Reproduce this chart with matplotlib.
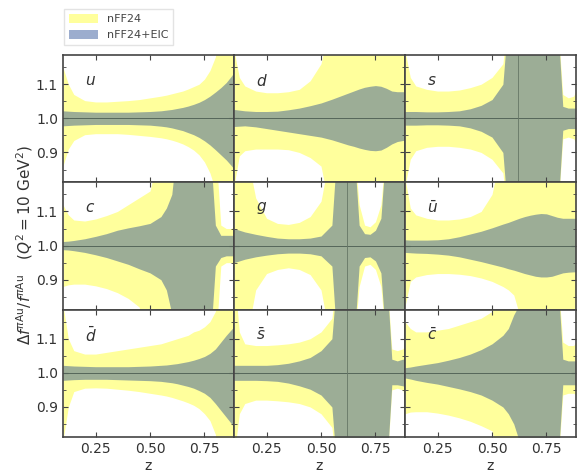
import numpy as np
import matplotlib.pyplot as plt
from matplotlib.patches import Patch
from matplotlib.ticker import MultipleLocator

# common z grid (denser at large z where the bands change quickly)
z = [0.10, 0.125, 0.15, 0.20, 0.25, 0.30, 0.35, 0.40, 0.45, 0.50, 0.55, 0.575, 0.60,
     0.625, 0.65, 0.675, 0.70, 0.725, 0.75, 0.775, 0.80, 0.825, 0.85, 0.875, 0.885]

# nFF24 band (upper / lower) and nFF24+EIC band (upper / lower)
u_nff_hi = [1.15, 1.10, 1.07, 1.052, 1.048, 1.048, 1.05, 1.052, 1.055, 1.06, 1.065, 1.068, 1.072,
            1.076, 1.08, 1.086, 1.093, 1.10, 1.115, 1.14, 1.18, 1.3, 1.3, 1.3, 1.3]
u_nff_lo = [0.86, 0.91, 0.935, 0.952, 0.955, 0.955, 0.955, 0.953, 0.95, 0.947, 0.943, 0.94, 0.936,
            0.931, 0.925, 0.917, 0.907, 0.893, 0.872, 0.84, 0.79, 0.7, 0.7, 0.7, 0.7]
u_eic_hi = [1.022, 1.021, 1.02, 1.019, 1.018, 1.018, 1.018, 1.018, 1.019, 1.02, 1.022, 1.024, 1.026,
            1.029, 1.032, 1.036, 1.041, 1.047, 1.055, 1.065, 1.077, 1.09, 1.105, 1.125, 1.135]
u_eic_lo = [0.978, 0.979, 0.98, 0.981, 0.982, 0.982, 0.982, 0.982, 0.981, 0.98, 0.977, 0.975, 0.972,
            0.968, 0.964, 0.958, 0.952, 0.944, 0.934, 0.922, 0.908, 0.893, 0.878, 0.86, 0.852]

d_nff_hi = [1.2, 1.12, 1.095, 1.08, 1.075, 1.075, 1.078, 1.085, 1.11, 1.16, 1.3, 1.3, 1.3,
            1.3, 1.3, 1.3, 1.3, 1.3, 1.3, 1.3, 1.3, 1.3, 1.3, 1.3, 1.3]
d_nff_lo = [0.8, 0.89, 0.905, 0.91, 0.91, 0.91, 0.908, 0.9, 0.885, 0.86, 0.7, 0.7, 0.7,
            0.7, 0.7, 0.7, 0.7, 0.7, 0.7, 0.7, 0.7, 0.7, 0.7, 0.7, 0.7]
d_eic_hi = [1.026, 1.024, 1.022, 1.02, 1.02, 1.021, 1.025, 1.03, 1.037, 1.045, 1.056, 1.062, 1.068,
            1.074, 1.08, 1.086, 1.091, 1.094, 1.096, 1.094, 1.088, 1.08, 1.078, 1.078, 1.078]
d_eic_lo = [0.976, 0.977, 0.978, 0.975, 0.97, 0.965, 0.96, 0.955, 0.95, 0.945, 0.937, 0.932, 0.927,
            0.922, 0.918, 0.913, 0.909, 0.906, 0.905, 0.907, 0.915, 0.925, 0.932, 0.935, 0.935]

s_nff_hi = [1.2, 1.12, 1.095, 1.085, 1.08, 1.08, 1.083, 1.09, 1.10, 1.12, 1.16, 1.3, 1.3,
            1.3, 1.3, 1.3, 1.3, 1.3, 1.3, 1.3, 1.3, 1.07, 1.06, 1.065, 1.08]
s_nff_lo = [0.8, 0.88, 0.905, 0.915, 0.918, 0.918, 0.915, 0.91, 0.9, 0.88, 0.84, 0.7, 0.7,
            0.7, 0.7, 0.7, 0.7, 0.7, 0.7, 0.7, 0.7, 0.94, 0.945, 0.94, 0.93]
s_eic_hi = [1.02, 1.02, 1.02, 1.019, 1.019, 1.02, 1.022, 1.028, 1.038, 1.055, 1.1, 1.3, 1.3,
            1.3, 1.3, 1.3, 1.3, 1.3, 1.3, 1.3, 1.3, 1.035, 1.03, 1.03, 1.03]
s_eic_lo = [0.98, 0.98, 0.98, 0.981, 0.981, 0.98, 0.978, 0.972, 0.962, 0.945, 0.9, 0.7, 0.7,
            0.7, 0.7, 0.7, 0.7, 0.7, 0.7, 0.7, 0.7, 0.965, 0.97, 0.97, 0.97]

c_nff_hi = [1.12, 1.09, 1.075, 1.072, 1.078, 1.088, 1.10, 1.12, 1.14, 1.16, 1.3, 1.3, 1.3,
            1.3, 1.3, 1.3, 1.3, 1.3, 1.3, 1.3, 1.3, 1.06, 1.05, 1.05, 1.06]
c_nff_lo = [0.88, 0.885, 0.887, 0.887, 0.882, 0.874, 0.862, 0.845, 0.82, 0.7, 0.7, 0.7, 0.7,
            0.7, 0.7, 0.7, 0.7, 0.7, 0.7, 0.7, 0.7, 0.94, 0.95, 0.95, 0.94]
c_eic_hi = [1.012, 1.013, 1.015, 1.02, 1.027, 1.035, 1.045, 1.052, 1.058, 1.065, 1.085, 1.11, 1.15,
            1.3, 1.3, 1.3, 1.3, 1.3, 1.3, 1.3, 1.06, 1.03, 1.03, 1.03, 1.03]
c_eic_lo = [0.988, 0.987, 0.985, 0.98, 0.973, 0.965, 0.955, 0.945, 0.932, 0.92, 0.9, 0.87, 0.8,
            0.7, 0.7, 0.7, 0.7, 0.7, 0.7, 0.7, 0.94, 0.965, 0.97, 0.97, 0.97]

g_nff_hi = [1.3, 1.3, 1.3, 1.14, 1.08, 1.065, 1.062, 1.068, 1.085, 1.13, 1.3, 1.3, 1.3,
            1.3, 1.3, 1.12, 1.06, 1.055, 1.07, 1.12, 1.3, 1.3, 1.3, 1.3, 1.3]
g_nff_lo = [0.7, 0.7, 0.7, 0.87, 0.918, 0.93, 0.935, 0.93, 0.915, 0.87, 0.7, 0.7, 0.7,
            0.7, 0.7, 0.88, 0.94, 0.945, 0.93, 0.88, 0.7, 0.7, 0.7, 0.7, 0.7]
g_eic_hi = [1.05, 1.045, 1.04, 1.033, 1.027, 1.022, 1.02, 1.02, 1.022, 1.028, 1.06, 1.3, 1.3,
            1.3, 1.3, 1.06, 1.035, 1.033, 1.045, 1.08, 1.3, 1.3, 1.3, 1.3, 1.3]
g_eic_lo = [0.95, 0.955, 0.96, 0.967, 0.972, 0.976, 0.978, 0.978, 0.976, 0.97, 0.94, 0.7, 0.7,
            0.7, 0.7, 0.94, 0.965, 0.967, 0.955, 0.92, 0.7, 0.7, 0.7, 0.7, 0.7]

ub_nff_hi = [1.2, 1.11, 1.09, 1.08, 1.075, 1.075, 1.078, 1.085, 1.10, 1.15, 1.3, 1.3, 1.3,
             1.3, 1.3, 1.3, 1.3, 1.3, 1.3, 1.3, 1.3, 1.3, 1.3, 1.3, 1.3]
ub_nff_lo = [0.82, 0.895, 0.908, 0.915, 0.918, 0.918, 0.916, 0.912, 0.905, 0.895, 0.88, 0.87, 0.855,
             0.8, 0.7, 0.7, 0.7, 0.7, 0.7, 0.7, 0.7, 0.7, 0.7, 0.7, 0.7]
ub_eic_hi = [1.017, 1.016, 1.016, 1.016, 1.017, 1.02, 1.026, 1.034, 1.042, 1.052, 1.063, 1.068, 1.074,
             1.08, 1.085, 1.089, 1.092, 1.094, 1.093, 1.088, 1.083, 1.08, 1.08, 1.08, 1.08]
ub_eic_lo = [0.98, 0.979, 0.978, 0.977, 0.975, 0.972, 0.967, 0.96, 0.953, 0.945, 0.937, 0.932, 0.928,
             0.923, 0.918, 0.914, 0.91, 0.908, 0.908, 0.91, 0.915, 0.92, 0.922, 0.923, 0.923]

db_nff_hi = [1.2, 1.1, 1.065, 1.055, 1.055, 1.06, 1.065, 1.07, 1.075, 1.08, 1.085, 1.09, 1.095,
             1.10, 1.105, 1.11, 1.12, 1.125, 1.135, 1.15, 1.18, 1.3, 1.3, 1.3, 1.3]
db_nff_lo = [0.8, 0.9, 0.945, 0.955, 0.956, 0.955, 0.952, 0.949, 0.945, 0.94, 0.935, 0.932, 0.928,
             0.923, 0.918, 0.912, 0.905, 0.895, 0.88, 0.86, 0.82, 0.7, 0.7, 0.7, 0.7]
db_eic_hi = [1.022, 1.021, 1.02, 1.019, 1.018, 1.018, 1.018, 1.018, 1.019, 1.02, 1.022, 1.023, 1.025,
             1.027, 1.03, 1.033, 1.037, 1.042, 1.048, 1.057, 1.07, 1.09, 1.11, 1.128, 1.135]
db_eic_lo = [0.978, 0.979, 0.98, 0.981, 0.981, 0.981, 0.98, 0.979, 0.978, 0.977, 0.975, 0.973, 0.971,
             0.968, 0.964, 0.96, 0.955, 0.948, 0.94, 0.928, 0.91, 0.89, 0.87, 0.85, 0.84]

sb_nff_hi = [1.3, 1.12, 1.085, 1.08, 1.08, 1.082, 1.085, 1.09, 1.10, 1.12, 1.16, 1.3, 1.3,
             1.3, 1.3, 1.3, 1.3, 1.3, 1.3, 1.3, 1.3, 1.07, 1.065, 1.07, 1.08]
sb_nff_lo = [0.75, 0.88, 0.91, 0.92, 0.92, 0.918, 0.915, 0.91, 0.9, 0.88, 0.84, 0.7, 0.7,
             0.7, 0.7, 0.7, 0.7, 0.7, 0.7, 0.7, 0.7, 0.95, 0.955, 0.95, 0.93]
sb_eic_hi = [1.022, 1.022, 1.022, 1.022, 1.022, 1.024, 1.028, 1.035, 1.045, 1.065, 1.1, 1.3, 1.3,
             1.3, 1.3, 1.3, 1.3, 1.3, 1.3, 1.3, 1.3, 1.04, 1.035, 1.04, 1.04]
sb_eic_lo = [0.978, 0.978, 0.978, 0.978, 0.977, 0.975, 0.97, 0.962, 0.952, 0.935, 0.9, 0.7, 0.7,
             0.7, 0.7, 0.7, 0.7, 0.7, 0.7, 0.7, 0.7, 0.965, 0.965, 0.962, 0.96]

cb_nff_hi = [1.15, 1.13, 1.12, 1.12, 1.125, 1.13, 1.14, 1.15, 1.16, 1.18, 1.3, 1.3, 1.3,
             1.3, 1.3, 1.3, 1.3, 1.3, 1.3, 1.3, 1.3, 1.09, 1.08, 1.08, 1.09]
cb_nff_lo = [0.88, 0.885, 0.886, 0.886, 0.882, 0.876, 0.868, 0.858, 0.845, 0.83, 0.7, 0.7, 0.7,
             0.7, 0.7, 0.7, 0.7, 0.7, 0.7, 0.7, 0.7, 0.935, 0.94, 0.94, 0.935]
cb_eic_hi = [1.015, 1.017, 1.02, 1.025, 1.03, 1.037, 1.045, 1.055, 1.068, 1.085, 1.11, 1.13, 1.17,
             1.2, 1.3, 1.3, 1.3, 1.3, 1.3, 1.3, 1.3, 1.04, 1.035, 1.035, 1.035]
cb_eic_lo = [0.985, 0.982, 0.978, 0.972, 0.967, 0.96, 0.953, 0.945, 0.935, 0.92, 0.9, 0.88, 0.85,
             0.8, 0.7, 0.7, 0.7, 0.7, 0.7, 0.7, 0.7, 0.965, 0.965, 0.965, 0.965]

labels = [r'$u$', r'$d$', r'$s$', r'$c$', r'$g$', r'$\bar{u}$', r'$\bar{d}$', r'$\bar{s}$', r'$\bar{c}$']
bands = [
    (u_nff_hi, u_nff_lo, u_eic_hi, u_eic_lo),
    (d_nff_hi, d_nff_lo, d_eic_hi, d_eic_lo),
    (s_nff_hi, s_nff_lo, s_eic_hi, s_eic_lo),
    (c_nff_hi, c_nff_lo, c_eic_hi, c_eic_lo),
    (g_nff_hi, g_nff_lo, g_eic_hi, g_eic_lo),
    (ub_nff_hi, ub_nff_lo, ub_eic_hi, ub_eic_lo),
    (db_nff_hi, db_nff_lo, db_eic_hi, db_eic_lo),
    (sb_nff_hi, sb_nff_lo, sb_eic_hi, sb_eic_lo),
    (cb_nff_hi, cb_nff_lo, cb_eic_hi, cb_eic_lo),
]
# panels with the faint vertical line
vline_z = {2: 0.62, 4: 0.62, 7: 0.62}

yellow = '#ffff9c'
eic_col = '#1f4590'
eic_alpha = 0.44
spine_col = '#444444'

fig, axes = plt.subplots(3, 3, figsize=(5.77, 4.76), dpi=100, sharex=True, sharey=True)
fig.subplots_adjust(left=0.109, right=0.998, top=0.884, bottom=0.082, wspace=0, hspace=0)

for i, ax in enumerate(axes.flat):
    hi, lo, ehi, elo = bands[i]
    ax.fill_between(z, lo, hi, color=yellow, lw=0)
    ax.fill_between(z, elo, ehi, color=eic_col, alpha=eic_alpha, lw=0)
    ax.axhline(1.0, color='#55665a', lw=0.7)
    if i in vline_z:
        ax.axvline(vline_z[i], color='#667766', lw=0.6)
    ax.text(0.13, 0.80, labels[i], transform=ax.transAxes, fontsize=11, color='#333333', va='center')
    ax.set_xlim(0.1, 0.885)
    ax.set_ylim(0.812, 1.185)
    ax.xaxis.set_major_locator(MultipleLocator(0.25))
    ax.yaxis.set_major_locator(MultipleLocator(0.1))
    ax.yaxis.set_minor_locator(MultipleLocator(0.05))
    ax.tick_params(which='both', direction='in', top=True, right=True, colors=spine_col,
                   labelcolor='#333333', labelsize=10)
    ax.tick_params(which='major', length=3.5)
    ax.tick_params(which='minor', length=2)
    for sp in ax.spines.values():
        sp.set_color(spine_col)
        sp.set_linewidth(1.2)
    ax.yaxis.set_major_formatter(plt.FormatStrFormatter('%.1f'))
    ax.xaxis.set_major_formatter(plt.FormatStrFormatter('%.2f'))

for ax in axes[2]:
    ax.set_xlabel('z', fontsize=10, color='#333333', labelpad=2)

fig.text(0.043, 0.485, r'$\Delta f^{\pi \mathrm{Au}}/f^{\pi \mathrm{Au}}$   $(Q^2 = 10\ \mathrm{GeV}^2)$',
         rotation=90, ha='center', va='center', fontsize=11, color='#333333')

handles = [Patch(facecolor=yellow, edgecolor='none', label='nFF24'),
           Patch(facecolor=eic_col, alpha=eic_alpha, edgecolor='none', label='nFF24+EIC')]
fig.legend(handles=handles, loc='upper left', bbox_to_anchor=(0.111, 0.981), fontsize=8,
           frameon=True, edgecolor='#dddddd', fancybox=False, handlelength=2.6,
           handleheight=0.9, borderpad=0.45, labelspacing=0.5, handletextpad=0.8,
           borderaxespad=0, labelcolor='#444444')

plt.savefig('out.png', dpi=100)
